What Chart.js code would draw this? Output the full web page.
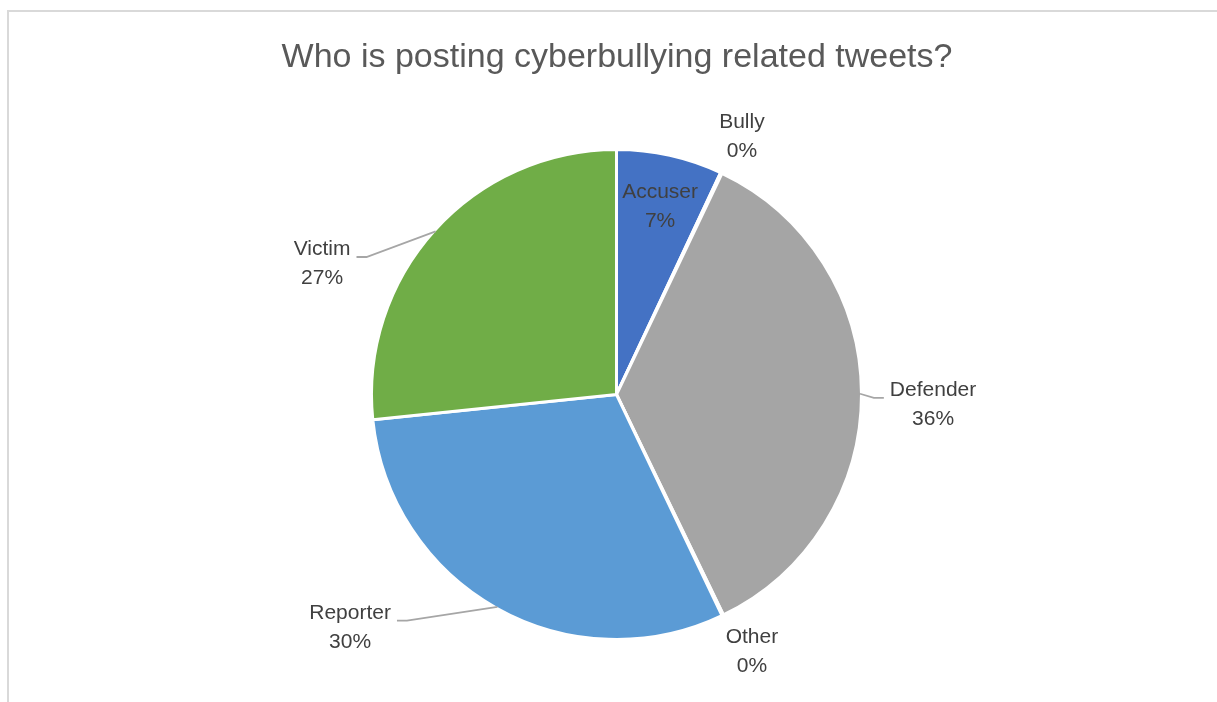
<!DOCTYPE html>
<html><head><meta charset="utf-8">
<script src="https://cdn.jsdelivr.net/npm/chart.js@4"></script>
<style>
html,body{margin:0;padding:0;background:#fff;}
#wrap{position:relative;width:1217px;height:702px;overflow:hidden;}
#frame{position:absolute;left:7px;top:10px;width:1300px;height:800px;border-top:2px solid #d9d9d9;border-left:2px solid #d9d9d9;pointer-events:none;}
canvas{position:absolute;left:0;top:0;}
</style></head><body>
<div id="wrap"><canvas id="c" width="1217" height="702"></canvas><div id="frame"></div></div>
<script>
const chartTitle = 'Who is posting cyberbullying related tweets?';
const categories = ['Accuser', 'Bully', 'Defender', 'Other', 'Reporter', 'Victim'];
const shares = [7.0, 0.1, 35.8, 0.1, 30.5, 26.7];
const sliceColors = ['#4472C4', '#ED7D31', '#A5A5A5', '#FFC000', '#5B9BD5', '#70AD47'];

// label placement relative to the pie centre, in units of the pie radius
const labelPlacement = [
  {dx: 0.179, dy: -0.770, leader: false},
  {dx: 0.515, dy: -1.058, leader: false},
  {dx: 1.300, dy: 0.043, leader: true},
  {dx: 0.556, dy: 1.057, leader: false},
  {dx: -1.094, dy: 0.957, leader: true},
  {dx: -1.209, dy: -0.536, leader: true}
];

const FONT = '"Liberation Sans", Arial, sans-serif';

const labelPlugin = {
  id: 'sliceLabels',
  afterDatasetsDraw(chart) {
    const ctx = chart.ctx;
    const meta = chart.getDatasetMeta(0);
    const total = shares.reduce((a, b) => a + b, 0);
    ctx.save();
    // title
    ctx.fillStyle = '#595959';
    ctx.font = '34px ' + FONT;
    ctx.textAlign = 'center';
    ctx.textBaseline = 'middle';
    ctx.fillText(chartTitle, 617, 58);

    ctx.font = '21px ' + FONT;
    const lh = 29;
    meta.data.forEach((arc, i) => {
      const {x, y, startAngle, endAngle, outerRadius} =
        arc.getProps(['x', 'y', 'startAngle', 'endAngle', 'outerRadius'], true);
      const R = outerRadius - 1.5;
      const p = labelPlacement[i];
      const lx = x + p.dx * R, ly = y + p.dy * R;
      const lines = [categories[i], Math.round(shares[i] / total * 100) + '%'];
      const w = Math.max(...lines.map(t => ctx.measureText(t).width));
      if (p.leader) {
        const mid = (startAngle + endAngle) / 2;
        const ex = x + Math.cos(mid) * R, ey = y + Math.sin(mid) * R;
        const side = lx < x ? 1 : -1;
        const ax = lx + side * (w / 2 + 6), ay = ly - 7;
        const bx = ax + side * 10;
        ctx.strokeStyle = '#a6a6a6';
        ctx.lineWidth = 1.8;
        ctx.beginPath();
        ctx.moveTo(ex, ey);
        ctx.lineTo(bx, ay);
        ctx.lineTo(ax, ay);
        ctx.stroke();
      }
      ctx.fillStyle = '#404040';
      lines.forEach((t, k) => ctx.fillText(t, lx, ly + (k - 0.5) * lh));
    });
    ctx.restore();
  }
};

new Chart(document.getElementById('c'), {
  type: 'pie',
  data: {
    labels: categories,
    datasets: [{
      data: shares,
      backgroundColor: sliceColors,
      borderColor: '#ffffff',
      borderWidth: 3
    }]
  },
  options: {
    responsive: false,
    animation: false,
    layout: {padding: {top: 148, bottom: 61, left: 16, right: 0}},
    plugins: {
      legend: {display: false},
      tooltip: {enabled: false},
      title: {display: false}
    }
  },
  plugins: [labelPlugin]
});
</script>
</body></html>
